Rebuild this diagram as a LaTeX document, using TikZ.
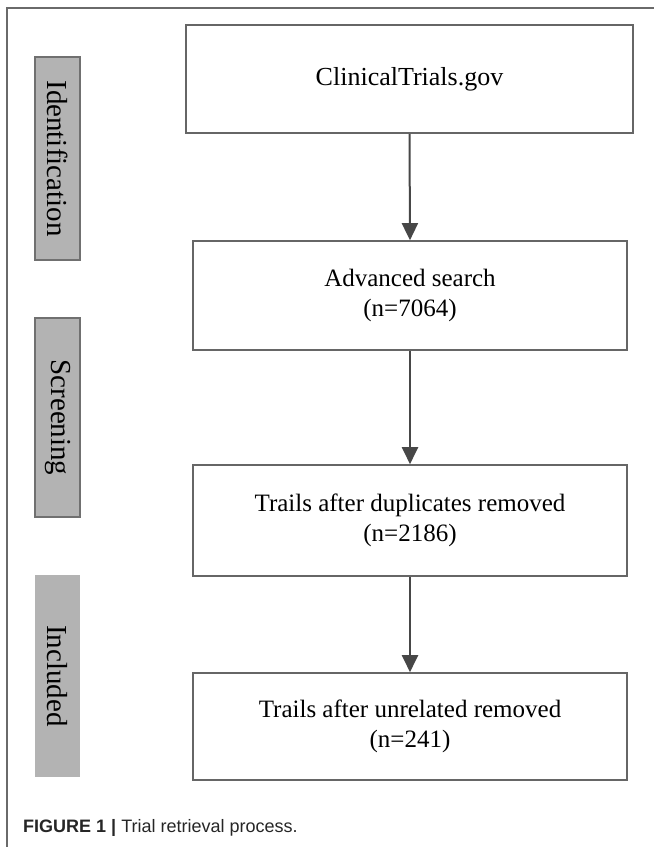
\documentclass[tikz,border=0pt]{standalone}
\usepackage{fontspec}
\setmainfont{Liberation Serif}
\newfontfamily\capfont{Liberation Sans}
\usetikzlibrary{arrows.meta}
\definecolor{boxline}{HTML}{666666}
\definecolor{barfill}{HTML}{B3B3B3}
\definecolor{barline}{HTML}{707070}
\definecolor{arrowc}{HTML}{474747}
\definecolor{framec}{HTML}{6A6A6A}
\tikzset{
  flowbox/.style={draw=boxline, line width=1.6pt, fill=white, align=center, inner sep=0pt, font=\fontsize{25}{30}\selectfont},
  phasebar/.style={fill=barfill, draw=barline, line width=1.4pt, rotate=-90, minimum height=45pt, inner sep=0pt, font=\fontsize{29}{32}\selectfont},
  flowarrow/.style={draw=arrowc, line width=2pt, -{Triangle[length=17pt,width=16pt]}},
}
\begin{document}
\begin{tikzpicture}[x=1pt,y=-1pt]
\useasboundingbox (0,0) rectangle (654,847);
% outer frame (top and left edges)
\coordinate (fa) at (7,847);
\coordinate (fb) at (7,8);
\coordinate (fc) at (654,8);
\draw[framec, line width=1.5pt] (fa) -- (fb) -- (fc);

% phase bars
\node[phasebar, minimum width=203pt] (ident) at (57.5,158.5) {Identification};
\node[phasebar, minimum width=199pt] (screen) at (57.5,417.5) {Screening};
\node[phasebar, draw=none, minimum width=202pt] (incl) at (57.5,676) {Included};

% flow boxes
\node[flowbox, minimum width=447pt, minimum height=108pt, font=\fontsize{26}{30}\selectfont] (b1) at (409.5,79) {ClinicalTrials.gov};
\node[flowbox, minimum width=434pt, minimum height=109pt] (b2) at (410,295.5) {Advanced search\\(n=7064)};
\node[flowbox, minimum width=434pt, minimum height=111pt] (b3) at (410,520.5) {Trails after duplicates removed\\(n=2186)};
\node[flowbox, minimum width=434pt, minimum height=107pt] (b4) at (410,726.5) {Trails after unrelated removed\\(n=241)};

% arrows
\draw[flowarrow] (b1.south) -- (b2.north);
\draw[flowarrow] (b2.south) -- (b3.north);
\draw[flowarrow] (b3.south) -- (b4.north);

% caption
\node[anchor=base west, inner sep=0pt, text=black!85, font=\capfont\fontsize{18}{20}\selectfont] (cap) at (23,832) {\textbf{FIGURE 1 |} Trial retrieval process.};
\end{tikzpicture}
\end{document}
